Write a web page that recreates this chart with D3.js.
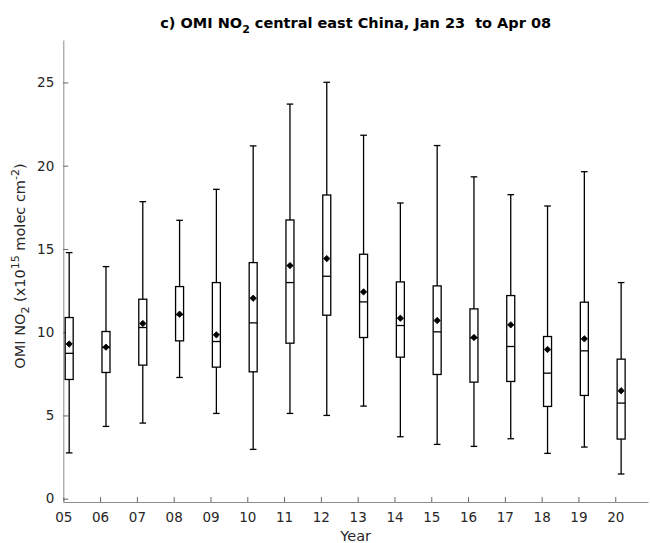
<!DOCTYPE html>
<html>
<head>
<meta charset="utf-8">
<script src="https://cdn.jsdelivr.net/npm/d3@7"></script>
<style>
  html, body { margin: 0; padding: 0; background: #fff; }
  svg { display: block; font-family: "DejaVu Sans", sans-serif; }
  .title { white-space: pre; }
</style>
</head>
<body>
<div id="chart"></div>
<script>
// Years (two-digit labels) and box statistics of OMI NO2 columns (x10^15 molec cm^-2)
const years    = [5, 6, 7, 8, 9, 10, 11, 12, 13, 14, 15, 16, 17, 18, 19, 20];
const yearLabels = ["05","06","07","08","09","10","11","12","13","14","15","16","17","18","19","20"];
const whiskerLow  = [2.75, 4.34, 4.54, 7.28, 5.12, 2.96, 5.12, 5.00, 5.56, 3.72, 3.26, 3.14, 3.60, 2.72, 3.10, 1.48];
const quartile1   = [7.16, 7.58, 8.02, 9.48, 7.90, 7.62, 9.34, 11.02, 9.68, 8.50, 7.46, 7.00, 7.04, 5.54, 6.20, 3.58];
const medians     = [8.73, 9.10, 10.28, 11.05, 9.44, 10.56, 12.98, 13.36, 11.82, 10.40, 10.02, 9.66, 9.14, 7.54, 8.88, 5.74];
const quartile3   = [10.88, 10.04, 11.98, 12.74, 12.98, 14.18, 16.74, 18.24, 14.68, 13.02, 12.78, 11.40, 12.20, 9.74, 11.80, 8.38];
const whiskerHigh = [14.78, 13.94, 17.84, 16.72, 18.58, 21.19, 23.70, 25.01, 21.83, 17.76, 21.21, 19.33, 18.26, 17.58, 19.64, 12.98];
const means       = [9.29, 9.10, 10.52, 11.08, 9.84, 12.04, 14.00, 14.42, 12.42, 10.84, 10.70, 9.68, 10.44, 8.96, 9.60, 6.48];
const yTicks = [0, 5, 10, 15, 20, 25];

// Each period (Jan 23 - Apr 08) is centred roughly 0.16 yr after the start of its year
const periodOffset = 0.16;

const W = 650, H = 543;
const margin = { left: 63.3, right: 2, top: 40, bottom: 41 };

const svg = d3.select("#chart").append("svg")
  .attr("width", W).attr("height", H);

const x = d3.scaleLinear().domain([5, 20.89]).range([margin.left, W - margin.right]);
const y = d3.scaleLinear().domain([-0.2, 27.55]).range([H - margin.bottom, margin.top]);

const axisColor = "#8c8c8c";
const textColor = "#262626";

// Axes (ticks pointing inward)
const xAxis = d3.axisBottom(x).tickValues(years)
  .tickFormat((d, i) => yearLabels[i]).tickSizeInner(-5).tickSizeOuter(0).tickPadding(10);
const yAxis = d3.axisLeft(y).tickValues(yTicks).tickSizeInner(-5).tickSizeOuter(0).tickPadding(9);

const gx = svg.append("g").attr("transform", `translate(0,${H - margin.bottom})`).call(xAxis);
const gy = svg.append("g").attr("transform", `translate(${margin.left},0)`).call(yAxis);

[gx, gy].forEach(g => {
  g.select(".domain").attr("stroke", axisColor).attr("stroke-width", 1);
  g.selectAll(".tick line").attr("stroke", "#404040").attr("stroke-width", 0.8);
  g.selectAll(".tick text").attr("fill", textColor)
    .attr("font-size", 13.5).attr("font-family", "DejaVu Sans, sans-serif");
});

// Box plots
const data = years.map((yr, i) => ({
  yr, lo: whiskerLow[i], q1: quartile1[i], med: medians[i],
  q3: quartile3[i], hi: whiskerHigh[i], mean: means[i]
}));

const boxHalf = 4, capHalf = 3.3;
const boxes = svg.append("g").attr("stroke", "#000").attr("stroke-width", 1.3).attr("fill", "none");

const g = boxes.selectAll("g.box").data(data).join("g").attr("class", "box");
g.append("line") // lower whisker
  .attr("x1", d => x(d.yr + periodOffset)).attr("x2", d => x(d.yr + periodOffset))
  .attr("y1", d => y(d.lo)).attr("y2", d => y(d.q1));
g.append("line") // upper whisker
  .attr("x1", d => x(d.yr + periodOffset)).attr("x2", d => x(d.yr + periodOffset))
  .attr("y1", d => y(d.q3)).attr("y2", d => y(d.hi));
g.append("line") // lower cap
  .attr("x1", d => x(d.yr + periodOffset) - capHalf).attr("x2", d => x(d.yr + periodOffset) + capHalf)
  .attr("y1", d => y(d.lo)).attr("y2", d => y(d.lo));
g.append("line") // upper cap
  .attr("x1", d => x(d.yr + periodOffset) - capHalf).attr("x2", d => x(d.yr + periodOffset) + capHalf)
  .attr("y1", d => y(d.hi)).attr("y2", d => y(d.hi));
g.append("rect") // interquartile box
  .attr("x", d => x(d.yr + periodOffset) - boxHalf).attr("width", boxHalf * 2)
  .attr("y", d => y(d.q3)).attr("height", d => y(d.q1) - y(d.q3))
  .attr("fill", "#fff");
g.append("line") // median
  .attr("x1", d => x(d.yr + periodOffset) - boxHalf).attr("x2", d => x(d.yr + periodOffset) + boxHalf)
  .attr("y1", d => y(d.med)).attr("y2", d => y(d.med));

// Mean markers (filled diamonds)
const diamond = d3.symbol().type(d3.symbolDiamond2).size(26);
svg.append("g").selectAll("path").data(data).join("path")
  .attr("d", diamond)
  .attr("transform", d => `translate(${x(d.yr + periodOffset)},${y(d.mean)})`)
  .attr("fill", "#000").attr("stroke", "#000").attr("stroke-width", 0.8);

// Title
const title = svg.append("text").attr("class", "title")
  .attr("x", (margin.left + W - margin.right) / 2).attr("y", 28)
  .attr("text-anchor", "middle").attr("font-weight", "bold")
  .attr("font-size", 14.5).attr("fill", "#000");
title.append("tspan").text("c) OMI NO");
title.append("tspan").attr("dy", 5).attr("font-size", 11).text("2");
title.append("tspan").attr("dy", -5).text(" central east China, Jan 23  to Apr 08");

// Axis labels
svg.append("text")
  .attr("x", (margin.left + W - margin.right) / 2).attr("y", 541)
  .attr("text-anchor", "middle").attr("font-size", 14.5).attr("fill", textColor)
  .text("Year");

const yl = svg.append("text")
  .attr("transform", `translate(25,266) rotate(-90)`)
  .attr("text-anchor", "middle").attr("font-size", 14.5).attr("fill", textColor);
yl.append("tspan").text("OMI NO");
yl.append("tspan").attr("dy", 4).attr("font-size", 11).text("2");
yl.append("tspan").attr("dy", -4).text(" (x10");
yl.append("tspan").attr("dy", -6).attr("font-size", 11).text("15");
yl.append("tspan").attr("dy", 6).text(" molec cm");
yl.append("tspan").attr("dy", -6).attr("font-size", 11).text("-2");
yl.append("tspan").attr("dy", 6).text(")");
</script>
</body>
</html>
